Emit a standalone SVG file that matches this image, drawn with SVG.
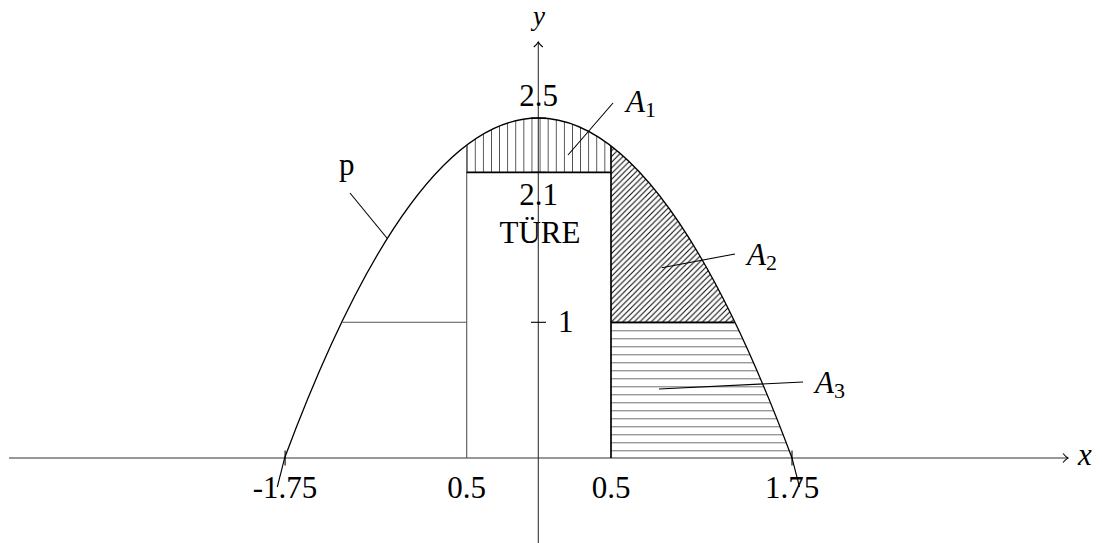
<svg xmlns="http://www.w3.org/2000/svg" width="1102" height="543" viewBox="0 0 1102 543">
<style>
text{font-family:"Liberation Serif","DejaVu Serif",serif;font-size:31px;fill:#000}
.it{font-style:italic}
.sub{font-size:22px;font-style:normal}
.ax{stroke:#333;stroke-width:1.1;fill:none}
.thin{stroke:#555;stroke-width:1.1;fill:none}
.bold{stroke:#000;stroke-width:1.7;fill:none}
.ld{stroke:#000;stroke-width:1.1;fill:none}
</style>
<defs>
<marker id="arr" markerWidth="12" markerHeight="12" refX="10" refY="6" orient="auto" markerUnits="userSpaceOnUse">
<path d="M5,1.5 Q8,5 10,6 Q8,7 5,10.5" fill="none" stroke="#000" stroke-width="1.1"/>
</marker>
<clipPath id="para"><path d="M284.6,458 Q538.3,-222 792,458 Z"/></clipPath>
<pattern id="vl" patternUnits="userSpaceOnUse" x="466.7" y="0" width="8.1" height="10">
<line x1="0" y1="0" x2="0" y2="10" stroke="#000" stroke-width="1.3"/>
</pattern>
<pattern id="hl" patternUnits="userSpaceOnUse" x="0" y="322.3" width="10" height="8">
<line x1="0" y1="0" x2="10" y2="0" stroke="#222" stroke-width="1.3"/>
</pattern>
<pattern id="dl" patternUnits="userSpaceOnUse" x="611" y="322.3" width="5.7" height="5.7">
<path d="M0,5.7 L5.7,0 M-1,1 L1,-1 M4.7,6.7 L6.7,4.7" stroke="#000" stroke-width="1"/>
</pattern>
</defs>
<g id="hatching" clip-path="url(#para)">
<rect x="466.7" y="100" width="144.3" height="72.3" fill="url(#vl)"/>
<rect x="611" y="100" width="300" height="222.3" fill="url(#dl)"/>
<rect x="611" y="322.3" width="300" height="135.7" fill="url(#hl)"/>
</g>
<g id="axes">
<line class="ax" x1="9" y1="458" x2="1068" y2="458" marker-end="url(#arr)"/>
<line class="ax" x1="538.3" y1="543" x2="538.3" y2="42" marker-end="url(#arr)"/>
<line class="ld" x1="792" y1="450.5" x2="792" y2="465.5"/>
<line class="ld" x1="285.1" y1="450.5" x2="285.1" y2="465.5"/>
<line class="ld" x1="531" y1="322.3" x2="546" y2="322.3"/>
<line class="ld" x1="531" y1="118" x2="546" y2="118"/>
<line class="ld" x1="531" y1="172.3" x2="546" y2="172.3"/>
</g>
<g id="parabola">
<path d="M284.6,458 Q538.3,-222 792,458" fill="none" stroke="#000" stroke-width="1.3"/>
<line class="ld" x1="792" y1="458" x2="799.5" y2="487"/>
<line class="ld" x1="284.6" y1="458" x2="277.3" y2="487"/>
</g>
<g id="door">
<line class="thin" x1="466.7" y1="458" x2="466.7" y2="146"/>
<line class="thin" x1="341.8" y1="322.3" x2="466.7" y2="322.3"/>
<line class="bold" x1="466.7" y1="172.3" x2="611" y2="172.3"/>
<line class="bold" x1="611" y1="458" x2="611" y2="146"/>
<line class="bold" x1="611" y1="322.3" x2="734.5" y2="322.3"/>
</g>
<g id="leaders">
<line class="ld" x1="350" y1="193" x2="387.7" y2="239"/>
<line class="ld" x1="613" y1="103" x2="568" y2="155"/>
<line class="ld" x1="735" y1="254" x2="661.7" y2="267.7"/>
<line class="ld" x1="803" y1="382" x2="659" y2="389"/>
</g>
<g id="labels">
<text class="it" x="539" y="25" text-anchor="middle" style="font-size:27px">y</text>
<text class="it" x="1078" y="465">x</text>
<text x="538.5" y="106" text-anchor="middle">2.5</text>
<text x="538.5" y="205" text-anchor="middle">2.1</text>
<text x="540" y="243" text-anchor="middle">TÜRE</text>
<text x="558" y="332">1</text>
<text x="339" y="175">p</text>
<text class="it" x="626" y="112">A<tspan class="sub" dy="5">1</tspan></text>
<text class="it" x="747" y="265">A<tspan class="sub" dy="5">2</tspan></text>
<text class="it" x="815" y="393">A<tspan class="sub" dy="5">3</tspan></text>
<text x="285" y="498" text-anchor="middle">-1.75</text>
<text x="466.7" y="498" text-anchor="middle">0.5</text>
<text x="611" y="498" text-anchor="middle">0.5</text>
<text x="792" y="498" text-anchor="middle">1.75</text>
</g>
</svg>
